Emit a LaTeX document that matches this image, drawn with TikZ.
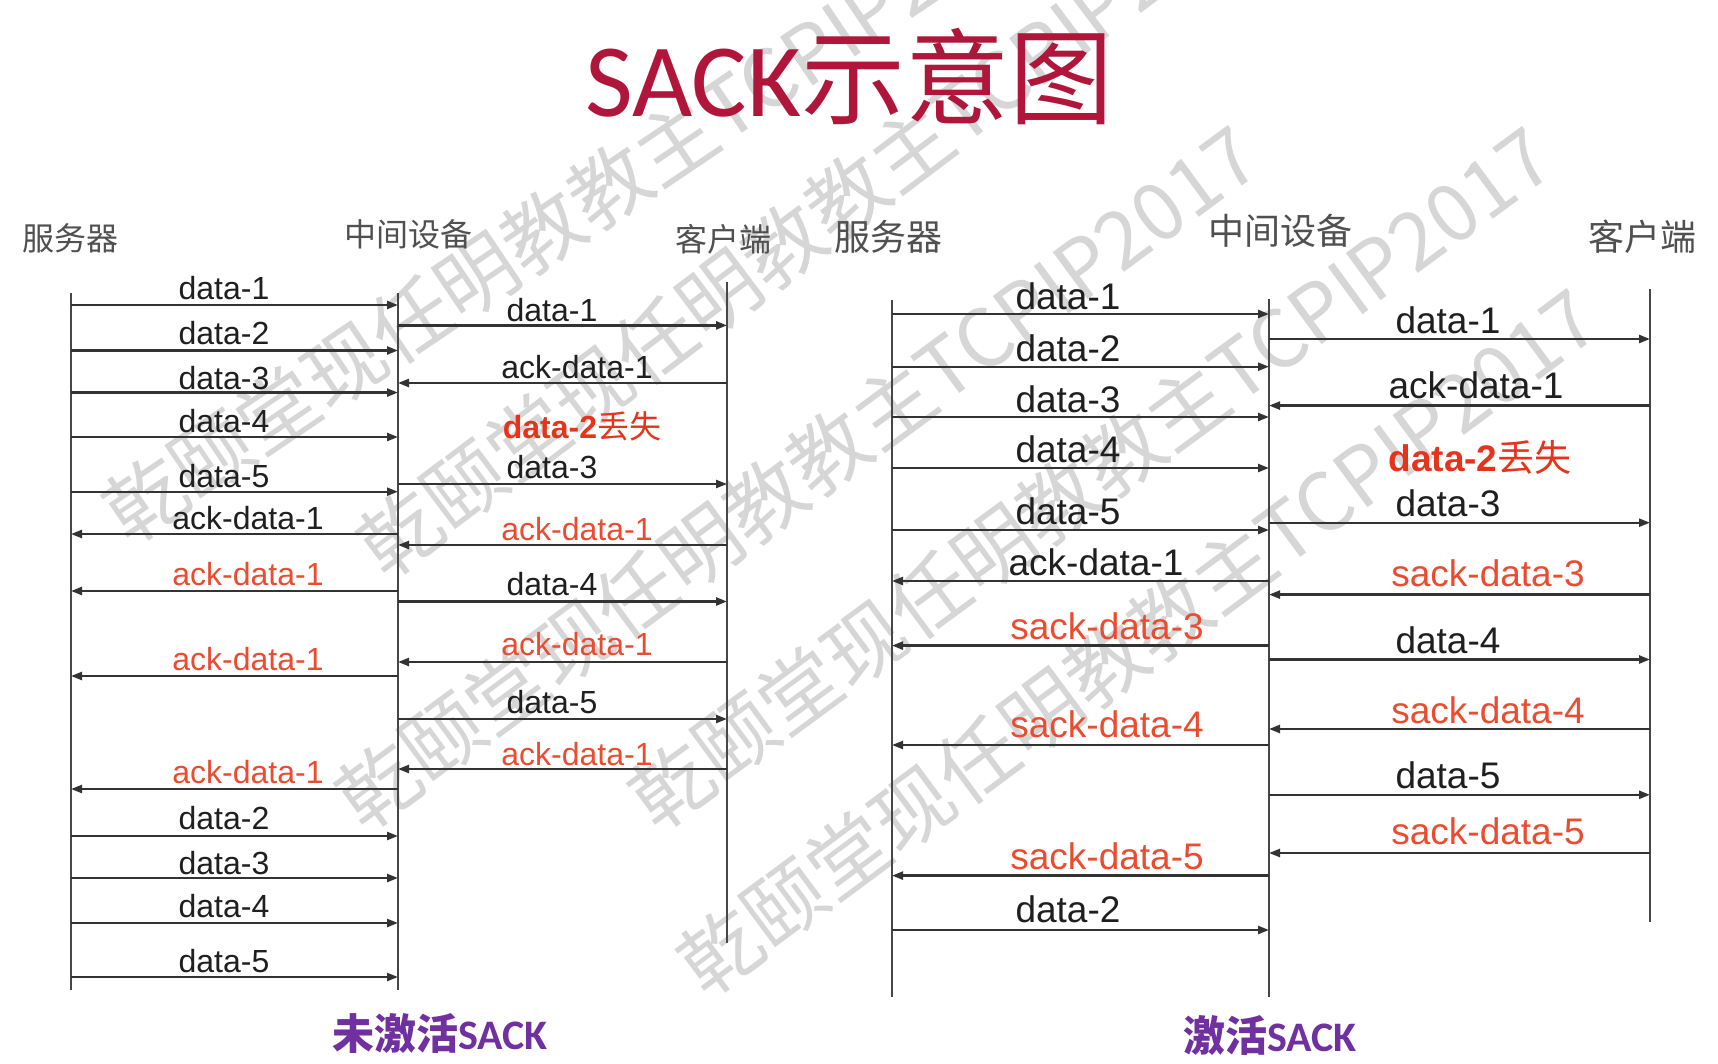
\documentclass[tikz,border=0pt]{standalone}
\usepackage{fontspec}
\setmainfont{Liberation Sans}
\newfontfamily\cjk{Noto Sans CJK SC}
\newfontfamily\calib{Carlito}
\usetikzlibrary{arrows.meta}
\definecolor{titlered}{RGB}{176,22,58}
\definecolor{lblred}{RGB}{234,76,48}
\definecolor{boldred}{RGB}{230,52,28}
\definecolor{hdrgray}{RGB}{80,80,80}
\definecolor{purp}{RGB}{112,48,160}
\definecolor{wmark}{RGB}{214,214,214}
\begin{document}
\begin{tikzpicture}[x=1pt,y=-1pt,
  life/.style={draw=black!72,line width=1.4pt},
  msg/.style={draw=black!80,line width=2.3pt,-{Triangle[length=11pt,width=8pt]}},
  lab/.style={inner sep=0pt,anchor=center},
  fL/.style={font=\fontsize{32}{32}\selectfont},
  fR/.style={font=\fontsize{37}{37}\selectfont},
  blk/.style={text=black!88},
  rlab/.style={text=lblred},
  hdrL/.style={inner sep=0pt,font=\cjk\fontsize{32}{32}\selectfont,text=hdrgray},
  hdrR/.style={inner sep=0pt,font=\cjk\fontsize{36}{36}\selectfont,text=hdrgray},
  wm/.style={inner sep=0pt,anchor=west,text=wmark,font=\cjk\fontsize{80}{80}\selectfont},
  foot/.style={inner sep=0pt,anchor=base,text=purp}
]
\useasboundingbox (0,0) rectangle (1718,1064);
\fill[white] (0,0) rectangle (1718,1064);

% watermarks
\node[wm,rotate=34] (wm1) at (112,522) {乾颐堂现任明教教主TCPIP2017};
\node[wm,rotate=37] (wm2) at (368,558) {乾颐堂现任明教教主TCPIP2017};
\node[wm,rotate=36.4] (wm3) at (346,809) {乾颐堂现任明教教主TCPIP2017};
\node[wm,rotate=36.3] (wm4) at (639,809) {乾颐堂现任明教教主TCPIP2017};
\node[wm,rotate=36.6] (wm5) at (688,975) {乾颐堂现任明教教主TCPIP2017};

% title
\node[anchor=base west,inner sep=0pt,text=titlered] (title) at (585,117)
  {{\calib\fontsize{104}{104}\selectfont SACK}{\cjk\fontsize{104}{104}\selectfont 示意图}};

% headers
\node[hdrL] (hLS) at (70,238) {服务器};
\node[hdrL] (hLM) at (408,234) {中间设备};
\node[hdrL] (hLC) at (723,239) {客户端};
\node[hdrR] (hRS) at (888,237) {服务器};
\node[hdrR] (hRM) at (1280,231) {中间设备};
\node[hdrR] (hRC) at (1642,237) {客户端};

% lifelines
\coordinate (LSt) at (71,293);  \coordinate (LSb) at (71,990);
\coordinate (LMt) at (398,293); \coordinate (LMb) at (398,990);
\coordinate (LCt) at (727,282); \coordinate (LCb) at (727,943);
\coordinate (RSt) at (892,300); \coordinate (RSb) at (892,997);
\coordinate (RMt) at (1269,299); \coordinate (RMb) at (1269,997);
\coordinate (RCt) at (1650,289); \coordinate (RCb) at (1650,922);
\draw[life] (LSt) -- (LSb);
\draw[life] (LMt) -- (LMb);
\draw[life] (LCt) -- (LCb);
\draw[life] (RSt) -- (RSb);
\draw[life] (RMt) -- (RMb);
\draw[life] (RCt) -- (RCb);

% left panel arrows
\foreach \y in {305,350.5,392.6,437,491.7,836,878,923,977}
  \draw[msg] (LSt |- 0,\y) -- (LMt |- 0,\y);
\foreach \y in {534,591,676,789}
  \draw[msg] (LMt |- 0,\y) -- (LSt |- 0,\y);
\foreach \y in {325.4,484,601.5,719}
  \draw[msg] (LMt |- 0,\y) -- (LCt |- 0,\y);
\foreach \y in {383,545,662,769}
  \draw[msg] (LCt |- 0,\y) -- (LMt |- 0,\y);

% right panel arrows
\foreach \y in {314,366.7,417,468,530,930}
  \draw[msg] (RSt |- 0,\y) -- (RMt |- 0,\y);
\foreach \y in {581,645.6,745,875.6}
  \draw[msg] (RMt |- 0,\y) -- (RSt |- 0,\y);
\foreach \y in {339,522.7,659.5,794.8}
  \draw[msg] (RMt |- 0,\y) -- (RCt |- 0,\y);
\foreach \y in {405.6,594.6,729,853}
  \draw[msg] (RCt |- 0,\y) -- (RMt |- 0,\y);

% left panel labels: server - middle
\foreach \t/\x/\y/\n in {data-1/224/288/a1,data-2/224/333/a2,data-3/224/378/a3,
   data-4/224/421/a4,data-5/224/476/a5,ack-data-1/248/518/a6,
   data-2/224/818/a7,data-3/224/863/a8,data-4/224/906/a9,data-5/224/961/a10}
  \node[lab,fL,blk] (\n) at (\x,\y) {\t};
\foreach \y/\n in {574/b1,659/b2,772/b3}
  \node[lab,fL,rlab] (\n) at (248,\y) {ack-data-1};
% left panel labels: middle - client
\foreach \t/\x/\y/\n in {data-1/552/310/c1,ack-data-1/577/367.5/c2,data-3/552/467/c3,
   data-4/552/584.5/c4,data-5/552/702/c5}
  \node[lab,fL,blk] (\n) at (\x,\y) {\t};
\foreach \y/\n in {529.5/d1,644.5/d2,754.5/d3}
  \node[lab,fL,rlab] (\n) at (577,\y) {ack-data-1};
\node[lab,fL,text=boldred] (lostL) at (582,426) {\textbf{data-2}{\cjk 丢失}};

% right panel labels: server - middle
\foreach \t/\x/\y/\n in {data-1/1068/296/e1,data-2/1068/348/e2,data-3/1068/399.5/e3,
   data-4/1068/449.5/e4,data-5/1068/511.5/e5,ack-data-1/1096/562/e6,data-2/1068/909.5/e7}
  \node[lab,fR,blk] (\n) at (\x,\y) {\t};
\foreach \t/\y/\n in {sack-data-3/626.5/f1,sack-data-4/724.5/f2,sack-data-5/856.5/f3}
  \node[lab,fR,rlab] (\n) at (1107,\y) {\t};
% right panel labels: middle - client
\foreach \t/\x/\y/\n in {data-1/1448/320.5/g1,ack-data-1/1476/385/g2,data-3/1448/503/g3,
   data-4/1448/640.5/g4,data-5/1448/775/g5}
  \node[lab,fR,blk] (\n) at (\x,\y) {\t};
\foreach \t/\y/\n in {sack-data-3/573/h1,sack-data-4/710.5/h2,sack-data-5/831.5/h3}
  \node[lab,fR,rlab] (\n) at (1488,\y) {\t};
\node[lab,fR,text=boldred] (lostR) at (1480,457) {\textbf{data-2}{\cjk 丢失}};

% captions
\node[foot] (capL) at (440,1049)
  {{\cjk\bfseries\fontsize{42}{42}\selectfont 未激活}{\calib\bfseries\fontsize{42}{42}\selectfont SACK}};
\node[foot] (capR) at (1270,1051)
  {{\cjk\bfseries\fontsize{42}{42}\selectfont 激活}{\calib\bfseries\fontsize{42}{42}\selectfont SACK}};
\end{tikzpicture}
\end{document}
